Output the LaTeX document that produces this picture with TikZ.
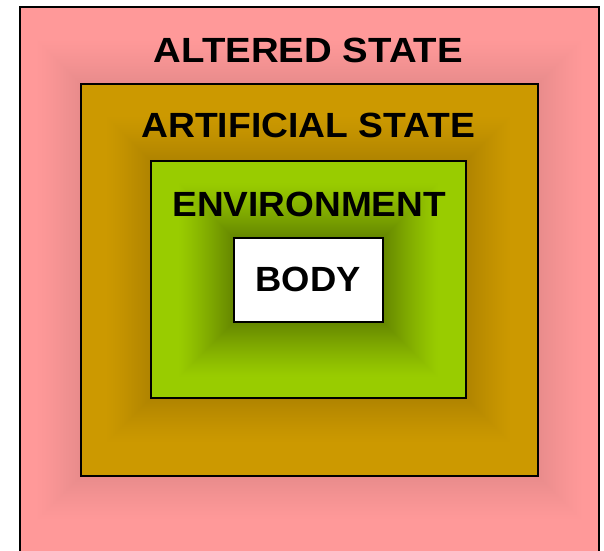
\documentclass[tikz,border=0pt]{standalone}
\usepackage{fontspec}
\setmainfont{Liberation Sans}
\definecolor{pinkc}{HTML}{FF9999}
\definecolor{brownc}{HTML}{CC9900}
\definecolor{greenc}{HTML}{99CC00}
% #1..#4 box corners, #5 spread, #6 darkness at edge, #7 base colour
\newcommand\myglow[7]{%
  \foreach \d in {#5,...,1}{%
    \pgfmathsetmacro\p{100-100*#6*(1-(\d-1)/#5)^1.2}%
    \fill[#7!\p!black] ({#1-\d},{#2-\d}) rectangle ({#3+\d},{#4+\d});}}
\begin{document}
\begin{tikzpicture}[x=1pt,y=-1pt,
  box/.style={draw=black, line width=2pt, inner sep=0, outer sep=0, anchor=north west},
  lbl/.style={font=\bfseries\fontsize{35}{40}\selectfont, text=black, inner sep=0, anchor=base}]
\useasboundingbox (0,0) rectangle (604,550);
\fill[white] (0,0) rectangle (604,550);
% outer pink box
\node[box, fill=pinkc, minimum width=579pt, minimum height=560pt] (altered) at (19.5,6.5) {};
\begin{scope}
  \clip (19.5,6.5) rectangle (598.5,566);
  \myglow{80.5}{83.5}{538}{475.5}{45}{0.09}{pinkc}
\end{scope}
\node[box, fill=brownc, minimum width=457.5pt, minimum height=392pt] (artificial) at (80.5,83.5) {};
\begin{scope}
  \clip (80.5,83.5) rectangle (538,475.5);
  \myglow{150.5}{160.5}{466}{398}{45}{0.14}{brownc}
\end{scope}
\node[box, fill=greenc, minimum width=315.5pt, minimum height=237.5pt] (environment) at (150.5,160.5) {};
\begin{scope}
  \clip (150.5,160.5) rectangle (466,398);
  \myglow{234}{237.5}{383}{322}{55}{0.34}{greenc}
\end{scope}
\node[box, fill=white, minimum width=149pt, minimum height=84.5pt] (body) at (234,237.5) {};
% labels
\node[lbl] (t1) at (308.4,62.5) {\scalebox{1.096}[1]{ALTERED STATE}};
\node[lbl] (t2) at (308.3,137) {\scalebox{1.064}[1]{ARTIFICIAL STATE}};
\node[lbl] (t3) at (309.2,216.7) {\scalebox{1.058}[1]{ENVIRONMENT}};
\node[lbl] (t4) at (308,291.7) {\scalebox{1.04}[1]{BODY}};
\end{tikzpicture}
\end{document}
